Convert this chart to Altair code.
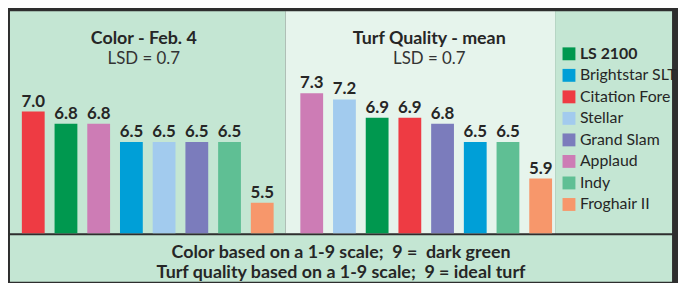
import altair as alt
import pandas as pd

# ---- data ----
cultivars = ["LS 2100", "Brightstar SLT", "Citation Fore", "Stellar",
             "Grand Slam", "Applaud", "Indy", "Froghair II"]
palette = ["#00984f", "#009fd7", "#ee3b43", "#a2cbee",
           "#7b7cbc", "#cd7cb5", "#5fbf94", "#f7976b"]

color_order = ["Citation Fore", "LS 2100", "Applaud", "Brightstar SLT",
               "Stellar", "Grand Slam", "Indy", "Froghair II"]
color_values = [7.0, 6.8, 6.8, 6.5, 6.5, 6.5, 6.5, 5.5]

quality_order = ["Applaud", "Stellar", "LS 2100", "Citation Fore",
                 "Grand Slam", "Brightstar SLT", "Indy", "Froghair II"]
quality_values = [7.3, 7.2, 6.9, 6.9, 6.8, 6.5, 6.5, 5.9]

panel_titles = ["Color - Feb. 4", "Turf Quality - mean"]
lsd_text = "LSD = 0.7"
caption_lines = ["Color based on a 1-9 scale;\u00a0 9 =\u00a0 dark green",
                 "Turf quality based on a 1-9 scale;\u00a0 9 = ideal turf"]

# ---- style ----
FONT = "Lato"
DARK = "#2e2e2e"
LIGHT = "#c4e6d3"
PALE = "#e6f4ec"
TXT = "#262626"
ROW_H = 224
W_LEFT, W_MID, W_LEG = 278, 272, 118
W_ALL = W_LEFT + W_MID + W_LEG

color_scale = alt.Scale(domain=cultivars, range=palette)


def panel(order, values, title, width, pad_outer, align, fill, dx):
    df = pd.DataFrame({"cultivar": order, "value": values})
    x = alt.X("cultivar:N", sort=order, axis=None,
              scale=alt.Scale(paddingInner=0.303, paddingOuter=pad_outer,
                              align=align))
    y = alt.Y("value:Q", axis=None,
              scale=alt.Scale(domain=[5, 8.65], zero=False, nice=False,
                              clamp=True))
    base = alt.Chart(df).encode(x=x, y=y)
    bars = base.mark_bar().encode(
        color=alt.Color("cultivar:N", scale=color_scale, legend=None))
    labels = base.mark_text(dy=-5, baseline="alphabetic", font=FONT,
                            fontSize=17, fontWeight="bold", color=TXT).encode(
        text=alt.Text("value:Q", format=".1f"))
    return alt.layer(bars, labels).properties(
        width=width, height=ROW_H,
        title=alt.TitleParams(
            text=title, subtitle=lsd_text, anchor="middle", offset=-56, dx=dx,
            font=FONT, fontSize=18, fontWeight="bold", color=TXT,
            subtitleFont=FONT, subtitleFontSize=17, subtitleFontWeight="normal",
            subtitleColor="#333333", subtitlePadding=3),
        view=alt.ViewBackground(fill=fill, stroke=None))


left = panel(color_order, color_values, panel_titles[0], W_LEFT, 0.363, 0.5,
             LIGHT, -4)
mid = panel(quality_order, quality_values, panel_titles[1], W_MID, 0.273, 0.83,
            PALE, 9)

# legend panel drawn from the cultivar list
leg_df = pd.DataFrame({"cultivar": cultivars})
ly = alt.Y("cultivar:N", sort=cultivars, axis=None,
           scale=alt.Scale(type="point", range=[43, 195], padding=0))
leg_base = alt.Chart(leg_df).encode(y=ly)
squares = leg_base.mark_square(size=169, opacity=1).encode(
    x=alt.value(14),
    color=alt.Color("cultivar:N", scale=color_scale, legend=None))
leg_bold = leg_base.mark_text(align="left", baseline="middle", font=FONT,
                              fontSize=16, fontWeight="bold", color=TXT).encode(
    x=alt.value(25), text="cultivar:N").transform_filter(
    alt.datum.cultivar == cultivars[0])
leg_norm = leg_base.mark_text(align="left", baseline="middle", font=FONT,
                              fontSize=16, color=TXT).encode(
    x=alt.value(25), text="cultivar:N").transform_filter(
    alt.datum.cultivar != cultivars[0])
legend_panel = alt.layer(squares, leg_bold, leg_norm).properties(
    width=W_LEG, height=ROW_H,
    view=alt.ViewBackground(fill=LIGHT, stroke=None))

row1 = alt.hconcat(left, mid, legend_panel, spacing=0)

# caption
cap_df = pd.DataFrame({"line": caption_lines, "i": list(range(len(caption_lines)))})
caption = alt.Chart(cap_df).mark_text(
    align="center", baseline="alphabetic", font=FONT, fontSize=18,
    fontWeight="bold", color=TXT).encode(
    x=alt.value(W_ALL / 2),
    y=alt.Y("i:O", axis=None,
            scale=alt.Scale(type="point", range=[23, 43], padding=0)),
    text="line:N").properties(
    width=W_ALL, height=47, view=alt.ViewBackground(fill=LIGHT, stroke=None))

chart = alt.vconcat(row1, caption, spacing=2).configure(
    background=DARK,
    padding={"left": 2, "top": 2, "right": 0, "bottom": 0}).configure_view(
    stroke=None)

chart.save("out.html", embed_options={"renderer": "svg", "actions": False})
